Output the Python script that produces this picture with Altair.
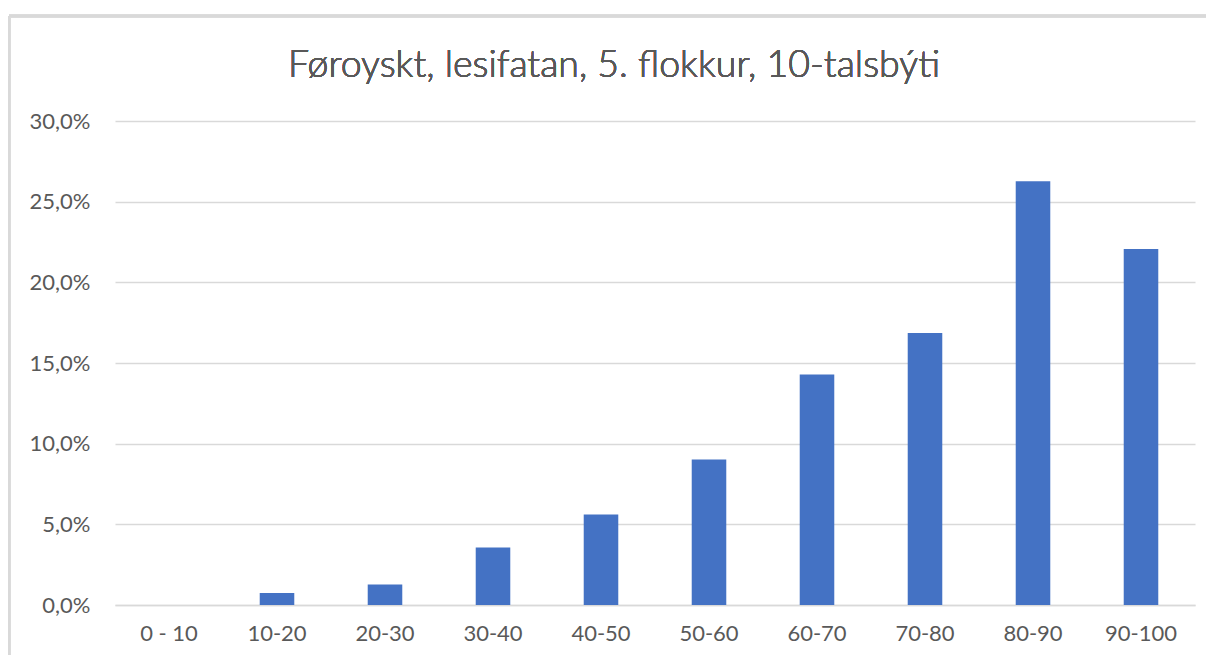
import altair as alt
import pandas as pd

categories = ["0 - 10", "10-20", "20-30", "30-40", "40-50", "50-60", "60-70", "70-80", "80-90", "90-100"]
values = [0.0, 0.75, 1.27, 3.57, 5.61, 9.02, 14.29, 16.86, 26.27, 22.07]
y_ticks = [0, 5, 10, 15, 20, 25, 30]
title_text = "Føroyskt, lesifatan, 5. flokkur, 10-talsbýti"

df = pd.DataFrame({"bil": categories, "prosent": values})

FONT = "Lato"
GREY = "#595959"
W, H = 1080, 484
PL, PT, PR, PB = 107, 113, 11, 50

bars = alt.Chart(df).mark_bar(color="#4472C4").encode(
    x=alt.X("bil:N", sort=categories, title=None,
            scale=alt.Scale(paddingInner=0.68, paddingOuter=0.34),
            axis=alt.Axis(labelAngle=0, ticks=False, domain=True, domainColor="#d9d9d9",
                          domainWidth=1.5, labelFont=FONT, labelFontSize=22, labelColor=GREY,
                          labelPadding=18)),
    y=alt.Y("prosent:Q", title=None,
            scale=alt.Scale(domain=[0, 30], nice=False),
            axis=alt.Axis(values=y_ticks, ticks=False, domain=False, grid=True,
                          gridColor="#d9d9d9", gridWidth=1.4,
                          labelExpr="replace(format(datum.value, '.1f'), '.', ',') + '%'",
                          labelFont=FONT, labelFontSize=22, labelColor=GREY, labelPadding=25)),
)

title = alt.Chart(df).mark_text(
    text=title_text, font=FONT, fontSize=37.5, fontWeight=300, color=GREY,
    align="center", baseline="middle"
).encode(x=alt.value(499), y=alt.value(-55))

top_border = alt.Chart(df).mark_rule(color="#d9d9d9", strokeWidth=2.5).encode(
    x=alt.value(-106), x2=alt.value(W + PR), y=alt.value(-105)
)
left_border = alt.Chart(df).mark_rule(color="#d9d9d9", strokeWidth=2.5).encode(
    x=alt.value(-106), y=alt.value(-105), y2=alt.value(H + PB)
)

chart = alt.layer(bars, title, top_border, left_border).properties(
    width=W, height=H,
    background="white",
    autosize=alt.AutoSizeParams(type="none"),
    padding={"left": PL, "top": PT, "right": PR, "bottom": PB},
).configure_view(stroke="transparent", strokeWidth=0)

chart.save("out.html", embed_options={"renderer": "svg", "actions": False})
